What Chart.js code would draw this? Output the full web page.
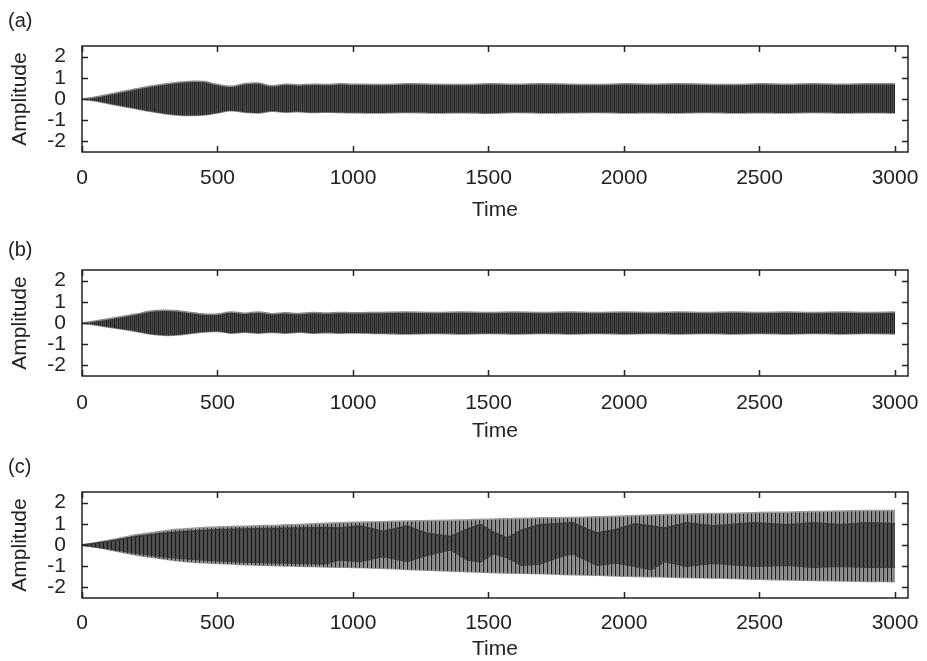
<!DOCTYPE html>
<html>
<head>
<meta charset="utf-8">
<script src="https://cdn.jsdelivr.net/npm/chart.js@4.4.1/dist/chart.umd.min.js"></script>
<style>
  html, body { margin: 0; padding: 0; background: #fff; overflow: hidden; }
  canvas { position: absolute; left: 0; }
</style>
</head>
<body>
<canvas id="chartA" width="927" height="223" style="top:0px"></canvas>
<canvas id="chartB" width="927" height="220" style="top:224px"></canvas>
<canvas id="chartC" width="927" height="216" style="top:446px"></canvas>
<script>
// time axis samples
const times = [0,50,100,150,200,250,300,350,400,450,500,550,600,650,700,750,800,850,900,950,1000,
  1100,1200,1300,1400,1500,1600,1700,1800,1900,2000,2100,2200,2300,2400,2500,2600,2700,2800,2900,3000];

// (a) envelope of the oscillation
const aUpper = [0,0.1,0.22,0.35,0.48,0.6,0.7,0.78,0.83,0.82,0.68,0.6,0.72,0.75,0.62,0.7,0.66,0.7,0.68,0.72,0.7,
  0.68,0.72,0.7,0.68,0.72,0.7,0.72,0.7,0.68,0.72,0.7,0.72,0.7,0.68,0.72,0.7,0.72,0.7,0.72,0.72];
const aLower = [0,-0.1,-0.22,-0.34,-0.46,-0.58,-0.68,-0.75,-0.78,-0.76,-0.66,-0.56,-0.62,-0.66,-0.58,-0.62,-0.6,-0.64,-0.62,-0.64,-0.65,
  -0.66,-0.64,-0.66,-0.65,-0.67,-0.64,-0.66,-0.65,-0.64,-0.66,-0.65,-0.66,-0.64,-0.66,-0.65,-0.66,-0.64,-0.66,-0.65,-0.66];

// (b) envelope
const bUpper = [0,0.1,0.2,0.31,0.42,0.55,0.6,0.58,0.5,0.42,0.42,0.52,0.46,0.52,0.44,0.48,0.45,0.5,0.47,0.5,0.48,
  0.5,0.52,0.5,0.52,0.5,0.52,0.5,0.52,0.5,0.52,0.5,0.52,0.5,0.52,0.5,0.52,0.5,0.52,0.5,0.52];
const bLower = [0,-0.1,-0.2,-0.3,-0.4,-0.52,-0.58,-0.57,-0.5,-0.43,-0.4,-0.48,-0.44,-0.48,-0.45,-0.48,-0.44,-0.48,-0.46,-0.48,-0.47,
  -0.5,-0.52,-0.5,-0.52,-0.5,-0.52,-0.5,-0.52,-0.5,-0.52,-0.5,-0.52,-0.5,-0.52,-0.5,-0.52,-0.5,-0.52,-0.5,-0.52];

// (c) outer envelope
const cUpper = [0,0.1,0.22,0.35,0.48,0.57,0.66,0.74,0.78,0.82,0.85,0.87,0.89,0.91,0.92,0.95,0.97,1.0,1.03,1.05,1.07,
  1.1,1.13,1.16,1.18,1.22,1.25,1.28,1.3,1.33,1.37,1.42,1.45,1.48,1.5,1.53,1.55,1.58,1.6,1.63,1.63];
const cLower = [0,-0.1,-0.22,-0.35,-0.47,-0.57,-0.66,-0.74,-0.8,-0.84,-0.87,-0.9,-0.93,-0.95,-0.97,-0.99,-1.0,-1.02,-1.04,-1.05,-1.06,
  -1.1,-1.15,-1.2,-1.25,-1.3,-1.33,-1.36,-1.4,-1.43,-1.47,-1.5,-1.53,-1.56,-1.58,-1.62,-1.65,-1.68,-1.7,-1.72,-1.73];

// (c) darker inner band (beating)
const beatTimes = [0,100,200,300,400,500,600,700,800,900,950,1025,1110,1200,1270,1360,1420,1470,1520,1570,1620,1690,1750,1810,1900,1970,2040,2100,2150,2230,2330,2480,2600,2700,2800,2900,3000];
const beatUpper = [0,0.18,0.4,0.55,0.65,0.72,0.75,0.78,0.8,0.82,0.8,0.9,0.65,0.9,0.57,0.4,0.75,0.97,0.6,0.33,0.7,0.97,1.0,1.05,0.57,0.73,1.0,0.9,0.8,1.05,0.9,1.05,0.95,1.05,0.95,1.05,1.0];
const beatLower = [0,-0.18,-0.38,-0.55,-0.66,-0.74,-0.8,-0.84,-0.86,-0.88,-0.7,-0.78,-0.54,-0.78,-0.5,-0.22,-0.7,-0.8,-0.4,-0.6,-0.95,-0.9,-0.62,-0.4,-0.95,-0.85,-1.0,-1.17,-0.78,-1.0,-0.86,-1.0,-0.95,-1.05,-1.0,-1.05,-1.05];

const xTicks = [0,500,1000,1500,2000,2500,3000];
const yTicks = [-2,-1,0,1,2];

const FONT = "'Liberation Sans', Arial, sans-serif";
const INK = '#222';

function pts(xs, ys) {
  return xs.map((x, i) => ({x: x, y: ys[i]}));
}

function stripes(colors) {
  const c = document.createElement('canvas');
  c.width = colors.length; c.height = 1;
  const g = c.getContext('2d');
  colors.forEach((col, i) => { g.fillStyle = col; g.fillRect(i, 0, 1, 1); });
  return g.createPattern(c, 'repeat');
}

// box + inward ticks on all four sides
const frame = {
  id: 'frame',
  afterDatasetsDraw(chart) {
    const {ctx, chartArea: a, scales: {x, y}} = chart;
    ctx.save();
    ctx.strokeStyle = INK;
    ctx.lineWidth = 1.5;
    ctx.strokeRect(a.left, a.top, a.right - a.left, a.bottom - a.top);
    ctx.beginPath();
    x.ticks.forEach(t => {
      const px = Math.round(x.getPixelForValue(t.value)) + 0.5;
      ctx.moveTo(px, a.bottom); ctx.lineTo(px, a.bottom - 6);
      ctx.moveTo(px, a.top); ctx.lineTo(px, a.top + 6);
    });
    y.ticks.forEach(t => {
      const py = Math.round(y.getPixelForValue(t.value)) + 0.5;
      ctx.moveTo(a.left, py); ctx.lineTo(a.left + 6, py);
      ctx.moveTo(a.right, py); ctx.lineTo(a.right - 6, py);
    });
    ctx.stroke();
    ctx.restore();
  }
};

function band(upper, lower, fillStyle, edge, tension) {
  return [
    {data: upper, fill: '+1', backgroundColor: fillStyle, borderColor: edge, borderWidth: 1.5, pointRadius: 0, tension: tension},
    {data: lower, fill: false, borderColor: edge, borderWidth: 1.5, pointRadius: 0, tension: tension}
  ];
}

function makePanel(id, label, datasets, titlePad, axisHeight, tickPad) {
  return new Chart(id, {
    type: 'line',
    data: {datasets: datasets},
    options: {
      responsive: false,
      animation: false,
      layout: {padding: {left: 8, right: 19, top: 0, bottom: 0}},
      scales: {
        x: {
          type: 'linear',
          min: 0,
          max: 3048,
          afterBuildTicks: s => { s.ticks = xTicks.map(v => ({value: v})); },
          afterFit: s => { s.height = axisHeight; s.paddingLeft = 0; s.paddingRight = 0; },
          grid: {display: false, drawTicks: false},
          border: {display: false},
          ticks: {color: INK, padding: tickPad, maxRotation: 0, autoSkip: false,
            callback: v => String(v), font: {family: FONT, size: 21}},
          title: {display: true, text: 'Time', color: INK, padding: 0, font: {family: FONT, size: 21}}
        },
        y: {
          min: -2.5,
          max: 2.5,
          afterBuildTicks: s => { s.ticks = yTicks.map(v => ({value: v})); },
          afterFit: s => { s.width = 74; s.paddingTop = 0; s.paddingBottom = 0; },
          grid: {display: false, drawTicks: false},
          border: {display: false},
          ticks: {color: INK, padding: 16, autoSkip: false, callback: v => String(v),
            font: {family: FONT, size: 21, lineHeight: 1}},
          title: {display: true, text: 'Amplitude', color: INK, padding: 0, font: {family: FONT, size: 21}}
        }
      },
      plugins: {
        legend: {display: false},
        tooltip: {enabled: false},
        title: {display: true, text: label, align: 'start', color: INK, padding: titlePad,
          font: {family: FONT, size: 20, weight: 'normal'}}
      }
    },
    plugins: [frame]
  });
}

const darkStripe = stripes(['#2a2a2a', '#555555', '#1c1c1c', '#4a4a4a']);
const greyStripe = stripes(['#8a8a8a', '#8a8a8a', '#999999', '#1e1e1e']);
const beatStripe = stripes(['#484848', '#555555', '#484848', '#1a1a1a']);

makePanel('chartA', '(a)', band(pts(times, aUpper), pts(times, aLower), darkStripe, '#8a8a8a', 0.4), {top: 9, bottom: 13}, 71, 14);
makePanel('chartB', '(b)', band(pts(times, bUpper), pts(times, bLower), darkStripe, '#8a8a8a', 0.4), {top: 14, bottom: 8}, 68, 15);
makePanel('chartC', '(c)',
  band(pts(beatTimes, beatUpper), pts(beatTimes, beatLower), beatStripe, '#3a3a3a', 0)
    .concat(band(pts(times, cUpper), pts(times, cLower), greyStripe, '#9a9a9a', 0.3)),
  {top: 9, bottom: 13}, 64, 13);
</script>
</body>
</html>
